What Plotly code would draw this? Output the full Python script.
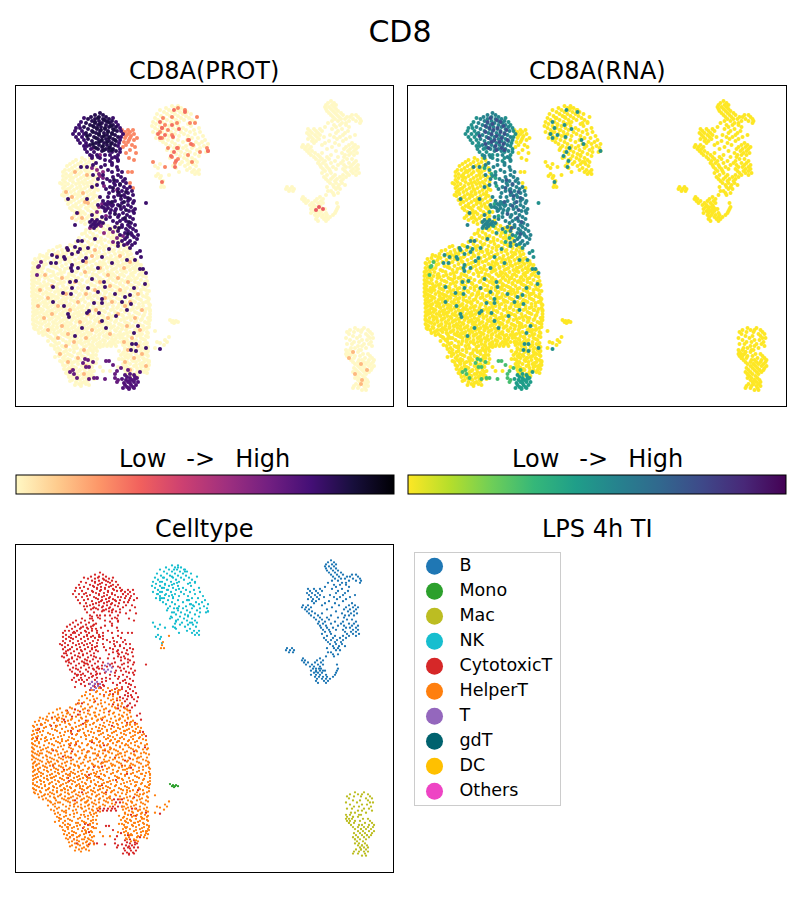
import plotly.graph_objects as go

cell_types = ["B", "Mono", "Mac", "NK", "CytotoxicT", "HelperT", "T", "gdT", "DC", "Others"]
type_colors = ["#1f77b4", "#2ca02c", "#bcbd22", "#17becf", "#d62728", "#ff7f0e", "#9467bd", "#00626e", "#ffc000", "#ee44c4"]

# every row is [umap_y, umap_x, umap_x, ...]
helper_rows = [
    [226, 99, 108, 117], [228, 92, 103, 112, 120], [230, 86, 96, 106, 115], [232, 90, 100, 110, 118],
    [234, 82, 93, 104, 113], [236, 87, 97, 108, 117], [238, 79, 90, 101, 111, 120], [240, 84, 94, 105, 114],
    [242, 76, 88, 98, 109, 118], [244, 81, 92, 102, 112, 121], [246, 60, 72, 85, 96, 106, 116, 125],
    [248, 66, 78, 89, 100, 110, 120, 128], [250, 53, 62, 74, 84, 94, 104, 114, 124, 130],
    [252, 58, 70, 80, 90, 99, 109, 119, 127], [254, 47, 55, 66, 76, 86, 96, 105, 115, 123, 131],
    [256, 43, 52, 62, 72, 82, 92, 101, 111, 120, 128], [258, 39, 48, 58, 68, 79, 88, 97, 107, 116, 125, 133],
    [260, 45, 54, 65, 75, 85, 94, 104, 113, 122, 130], [262, 37, 42, 50, 60, 70, 81, 90, 100, 109, 118, 127, 135],
    [264, 34, 46, 56, 66, 76, 86, 96, 105, 114, 123, 132, 138], [266, 38, 52, 62, 73, 83, 92, 102, 111, 120, 129, 136],
    [268, 33, 43, 57, 68, 79, 88, 98, 107, 116, 125, 133, 140], [270, 37, 48, 60, 71, 84, 94, 103, 112, 121, 130, 138],
    [272, 32, 42, 53, 64, 76, 89, 99, 108, 117, 126, 135, 142], [274, 36, 46, 58, 69, 81, 93, 104, 113, 122, 131, 140],
    [276, 32, 41, 51, 62, 74, 86, 97, 106, 115, 124, 133, 143], [278, 35, 45, 56, 66, 78, 90, 100, 110, 119, 128, 137],
    [280, 32, 39, 49, 60, 71, 82, 94, 103, 113, 122, 131, 141], [282, 35, 44, 54, 64, 75, 87, 97, 107, 116, 125, 135, 145],
    [284, 32, 40, 48, 58, 69, 80, 91, 101, 110, 120, 129, 139], [286, 34, 43, 52, 63, 73, 84, 95, 105, 114, 123, 133, 143, 147],
    [288, 32, 38, 47, 57, 67, 78, 89, 99, 108, 118, 127, 137], [290, 35, 42, 51, 61, 71, 82, 93, 103, 112, 121, 131, 141, 146],
    [292, 32, 39, 46, 55, 65, 76, 86, 97, 106, 116, 125, 135], [294, 34, 43, 50, 59, 69, 80, 90, 100, 110, 119, 129, 139, 147],
    [296, 32, 38, 47, 54, 63, 73, 84, 94, 104, 113, 123, 133, 143], [298, 35, 42, 51, 58, 67, 77, 88, 98, 107, 117, 127, 137, 148],
    [300, 33, 39, 46, 55, 62, 71, 81, 92, 101, 111, 121, 131, 141], [302, 36, 43, 50, 59, 66, 75, 85, 95, 105, 115, 125, 135, 146],
    [304, 33, 40, 47, 54, 63, 70, 79, 89, 99, 109, 119, 129, 139, 149], [306, 35, 44, 51, 58, 67, 74, 83, 93, 103, 113, 123, 133, 143],
    [308, 33, 39, 48, 55, 62, 71, 78, 87, 97, 107, 117, 127, 137, 149], [310, 37, 43, 52, 59, 66, 75, 82, 91, 101, 111, 121, 131, 141, 150],
    [312, 33, 41, 47, 56, 63, 70, 79, 86, 95, 105, 115, 125, 135, 145], [314, 36, 44, 51, 60, 67, 74, 83, 90, 99, 109, 119, 129, 139, 150],
    [316, 33, 40, 48, 55, 64, 71, 78, 87, 94, 103, 113, 123, 133, 143], [318, 37, 44, 52, 59, 68, 75, 82, 91, 98, 107, 117, 127, 137, 148],
    [320, 33, 41, 49, 56, 63, 72, 79, 86, 95, 102, 111, 121, 131, 141, 150], [322, 37, 45, 53, 60, 67, 76, 83, 90, 99, 106, 115, 125, 135, 145],
    [324, 33, 42, 49, 57, 64, 71, 80, 87, 94, 103, 110, 119, 129, 139, 149], [326, 36, 46, 53, 61, 68, 75, 84, 91, 98, 107, 114, 123, 133, 143],
    [328, 34, 41, 50, 57, 65, 72, 79, 88, 95, 102, 111, 118, 127, 137, 147], [330, 38, 45, 54, 61, 69, 76, 83, 92, 99, 106, 115, 126, 135, 143],
    [332, 42, 50, 58, 65, 73, 80, 87, 96, 103, 110, 120, 130, 139, 147], [334, 46, 55, 62, 69, 77, 84, 91, 100, 107, 124, 133, 142],
    [336, 48, 56, 66, 73, 81, 88, 95, 104, 112, 128, 137, 146], [338, 51, 60, 70, 77, 85, 92, 99, 108, 123, 132, 141],
    [340, 53, 63, 74, 81, 89, 96, 103, 115, 127, 136, 145], [342, 55, 66, 78, 85, 93, 100, 110, 122, 131, 140],
    [344, 57, 69, 82, 89, 97, 126, 135, 144], [346, 54, 62, 73, 86, 93, 129, 138, 146], [348, 58, 66, 77, 90, 96, 125, 133, 142],
    [350, 60, 70, 81, 91, 128, 137, 145], [352, 57, 64, 74, 85, 93, 124, 132, 141, 147], [354, 61, 68, 78, 88, 127, 136, 144],
    [356, 59, 65, 72, 82, 91, 125, 131, 140, 148], [358, 63, 76, 86, 93, 128, 135, 143], [360, 65, 70, 80, 90, 124, 132, 139, 147],
    [362, 62, 67, 74, 84, 92, 127, 136, 144, 149], [364, 68, 78, 88, 123, 130, 140, 148], [366, 65, 72, 82, 91, 126, 134, 143, 147],
    [368, 69, 76, 86, 128, 137, 146], [370, 67, 73, 80, 90, 125, 132, 141, 145], [372, 70, 77, 85, 92, 129, 137, 144],
    [374, 68, 74, 82, 89, 127, 134], [376, 72, 79, 87, 93, 131, 138], [378, 75, 83, 90], [380, 72, 80, 87], [382, 76, 84],
    [384, 79, 86], [386, 81],
    [331, 155], [337, 169], [340, 165], [342, 157, 167], [343, 160], [345, 164], [348, 155],
    [175, 169], [181, 163], [184, 162], [187, 161, 164],
    [347, 100], [351, 97, 119], [355, 96, 121], [359, 97, 119], [363, 96], [367, 100, 118], [371, 103, 110],
]
helper_fill_rows = [
    [229, 97, 118], [233, 85, 109], [237, 94, 113], [241, 79, 101, 122], [245, 70, 90, 115], [247, 57, 83, 104, 127],
    [251, 49, 67, 88, 113], [253, 63, 95, 122], [255, 40, 59, 81, 103, 128], [257, 46, 71, 98, 119], [259, 35, 62, 87, 110, 131],
    [261, 41, 69, 93, 117, 137], [263, 33, 57, 79, 103, 126], [265, 44, 72, 99, 118, 141], [267, 36, 55, 80, 107, 127],
    [269, 40, 65, 91, 114, 135], [271, 34, 50, 77, 101, 124, 144], [273, 38, 61, 86, 110, 133], [275, 33, 54, 72, 96, 120, 139],
    [277, 37, 47, 68, 92, 111, 129, 146], [279, 39, 58, 76, 99, 117, 135], [281, 33, 52, 69, 88, 108, 126, 147],
    [283, 37, 61, 79, 100, 120, 138], [285, 33, 46, 71, 92, 111, 131, 148], [287, 41, 56, 82, 103, 116, 136], [289, 33, 49, 65, 87, 109, 125, 144],
    [291, 37, 58, 75, 98, 118, 134, 149], [293, 33, 47, 68, 85, 105, 122, 141], [295, 36, 52, 61, 79, 96, 115, 137],
    [297, 40, 57, 71, 90, 109, 128, 146], [299, 34, 49, 65, 83, 103, 119, 139, 149], [301, 37, 53, 74, 93, 113, 133, 148],
    [303, 33, 45, 61, 79, 98, 122, 143], [305, 38, 56, 69, 88, 107, 127, 150], [307, 34, 47, 64, 81, 100, 118, 139],
    [309, 41, 58, 73, 94, 113, 133, 146], [311, 35, 50, 68, 85, 104, 125, 150], [313, 38, 54, 77, 97, 117, 137],
    [315, 34, 47, 62, 80, 101, 122, 144], [317, 41, 58, 73, 91, 110, 130, 150], [319, 33, 50, 66, 85, 104, 124, 142],
    [321, 35, 45, 61, 77, 96, 116, 136, 149], [323, 39, 54, 70, 88, 108, 127, 147], [325, 34, 48, 65, 82, 100, 121, 140],
    [327, 40, 57, 74, 93, 112, 130, 149], [329, 35, 52, 68, 86, 104, 122, 144], [331, 44, 60, 78, 97, 116, 137],
    [333, 39, 54, 71, 89, 109, 127, 148], [335, 43, 64, 82, 99, 120, 140], [337, 50, 68, 87, 106, 131, 148],
    [339, 55, 75, 94, 112, 126, 143], [341, 48, 70, 88, 105, 134], [343, 59, 81, 99, 128, 147], [345, 51, 76, 92, 123, 140],
    [347, 64, 84, 132, 148], [349, 55, 74, 94, 125, 141], [351, 66, 88, 134, 148], [353, 59, 80, 123, 142], [355, 70, 93, 130, 147],
    [357, 55, 84, 126, 138], [359, 68, 90, 122, 144], [361, 60, 77, 133, 149], [363, 72, 94, 126, 142], [365, 63, 85, 136, 149],
    [367, 74, 92, 124, 141], [369, 64, 84, 131, 148], [371, 79, 94, 138], [373, 66, 88, 126, 147], [375, 77, 91, 136], [377, 69, 86],
    [379, 78, 94], [381, 70, 88], [383, 82], [385, 75, 89],
]
helper_peach_rows = [
    [250, 68, 95], [256, 57, 92, 120], [262, 86, 130], [268, 100, 124], [272, 85], [275, 45, 108], [278, 62, 118],
    [282, 75, 100, 128], [286, 52, 110], [290, 40, 95, 120], [294, 66, 86, 138], [298, 48, 105], [302, 78, 112, 130],
    [306, 38, 58, 125], [310, 70, 96, 142], [314, 52, 88, 118], [318, 44, 108, 135], [322, 80, 100], [326, 62, 127],
    [330, 48, 92, 140], [334, 68, 110], [338, 58, 86, 132], [342, 74, 124], [346, 66, 138], [350, 84, 128],
    [354, 60, 142], [358, 78, 134], [362, 68, 125], [366, 86, 146], [370, 72, 130], [374, 84],
]
cyto_left_rows = [
    [158, 82, 90], [160, 76, 85, 93], [162, 73, 81, 89], [164, 70, 78, 86, 94], [166, 67, 75, 83, 91], [168, 72, 80, 88, 96],
    [170, 65, 69, 77, 85, 92], [172, 63, 73, 81, 89, 97], [174, 66, 71, 79, 87], [176, 63, 69, 76, 84, 91, 99],
    [178, 66, 73, 81, 88], [180, 63, 70, 78, 85, 93], [182, 65, 73, 82, 90, 97], [184, 62, 68, 76, 84, 92],
    [186, 65, 72, 80, 88, 95], [188, 63, 70, 77, 85, 92], [190, 66, 74, 82, 90, 98], [192, 64, 71, 79, 87, 94],
    [194, 67, 75, 83, 91], [196, 64, 72, 80, 88, 96], [198, 69, 77, 85, 93], [200, 66, 74, 82, 90, 98], [202, 71, 79, 87, 95],
    [204, 68, 76, 84, 92], [206, 73, 81, 89, 97], [208, 70, 78, 86, 94], [210, 72, 80, 88, 96], [212, 75, 83, 91, 100],
    [214, 77, 85, 93], [216, 74, 81, 89, 97], [218, 79, 87, 95], [220, 76, 84, 92, 102], [222, 81, 89, 98], [224, 85, 94, 104],
    [344, 100, 104, 108, 112, 115], [346, 98, 103, 107, 111, 116], [342, 113, 118, 122], [338, 116, 120], [335, 114, 118, 122],
    [171, 74, 86], [177, 71, 95], [183, 60, 79, 87], [189, 68, 81, 96], [195, 62, 78, 94], [201, 69, 84], [207, 76, 93], [213, 81, 96],
]
cyto_left_peach_rows = [
    [172, 75], [175, 87], [192, 66], [193, 83], [197, 72], [202, 85], [203, 88], [213, 78], [218, 72, 82],
]
cyto_side_rows = [
    [130, 122, 128, 133], [132, 125, 130], [134, 123, 128, 134], [136, 126, 131], [138, 125, 130, 137], [140, 129, 134],
    [142, 124, 128], [145, 126, 132], [147, 123, 135], [150, 130], [153, 126, 136], [158, 129], [160, 134], [172, 128, 132],
    [183, 130], [188, 133],
]
top_center_rows = [
    [113, 100], [115, 95, 103], [117, 91, 99, 106], [119, 88, 95, 103, 109], [121, 92, 99, 106, 112], [123, 86, 95, 102, 110],
    [125, 90, 98, 106, 113], [127, 84, 94, 101, 109, 116], [129, 88, 97, 105, 113], [131, 92, 100, 108, 117],
    [133, 86, 96, 104, 112], [135, 90, 99, 107, 115], [137, 94, 102, 110, 118], [139, 88, 98, 106, 113], [141, 92, 101, 109, 116],
    [143, 96, 104, 112], [145, 90, 99, 107, 115], [147, 94, 102, 110], [149, 98, 106, 113], [151, 102, 109, 116],
]
top_blue_rows = [
    [118, 98], [120, 104], [122, 95, 108], [124, 100], [126, 93, 111], [128, 97, 105], [130, 101, 114], [132, 93, 108], [134, 99, 112],
    [136, 87, 104], [138, 96, 109], [140, 102, 115], [142, 99, 107], [144, 93, 111], [146, 103], [148, 96, 109], [150, 104, 112],
]
top_edge_rows = [
    [118, 84, 113], [122, 81, 116], [125, 79, 118], [128, 76, 80, 120], [131, 75, 82, 121], [134, 73, 79, 84, 123],
    [137, 76, 82, 121], [140, 78, 84, 120], [143, 80, 86, 119], [146, 84, 87, 118], [149, 85, 91, 120], [152, 87, 94, 112, 120],
    [155, 90, 97, 105, 118], [158, 92, 100, 112, 117], [161, 110, 118],
]
cyto_col_rows = [
    [155, 110], [156, 92], [157, 98, 115], [160, 105, 118], [163, 96, 112], [165, 93, 105, 112], [167, 81, 87, 101, 117],
    [170, 108, 118], [172, 112, 122], [175, 93, 103, 118], [177, 113, 121], [179, 98, 107, 125], [181, 110, 117, 123],
    [183, 103, 114, 126], [185, 97, 115, 120], [187, 92, 110, 124, 130], [189, 106, 118, 127], [191, 113, 122, 132],
    [193, 109, 119, 128], [195, 118, 124, 133], [197, 100, 108, 114, 125], [199, 68, 87, 121, 130], [201, 103, 115, 128, 134],
    [203, 110, 122, 133], [205, 98, 107, 113, 118, 128], [207, 102, 124, 131], [209, 116, 121, 135], [211, 105, 115, 129, 133],
    [213, 77, 110, 123, 134], [215, 92, 119, 127], [217, 102, 110, 118, 130], [219, 106, 123, 133], [221, 113, 120, 126],
    [223, 103, 117, 131], [225, 75, 95, 122, 128, 135], [227, 115, 122, 130], [229, 110, 126, 133], [231, 118, 128, 136],
    [233, 125, 131], [235, 120, 132, 138], [237, 127, 134], [239, 95, 125, 137], [241, 78, 82, 122, 130], [243, 118, 128, 135],
    [245, 124, 132],
]
col_blue_rows = [
    [180, 114], [184, 120], [188, 113], [192, 118, 126], [196, 121], [198, 128], [202, 112, 124], [206, 120], [210, 126], [214, 115],
    [218, 125], [222, 129], [228, 119], [234, 128],
]
col_green_rows = [
    [168, 92], [174, 99], [178, 103], [186, 104], [204, 102], [212, 97], [216, 106], [222, 95], [226, 101], [232, 113], [238, 117],
    [242, 113], [244, 127], [236, 123],
]
cyto_mid_rows = [[148, 93], [150, 103], [155, 100], [170, 97], [172, 103], [176, 100], [190, 117], [207, 99], [225, 100], [228, 90], [233, 104]]
scatter_a_rows = [
    [203, 146], [246, 118], [247, 75], [248, 67, 88, 130], [249, 80, 109], [250, 68], [251, 140], [252, 78], [253, 137], [254, 72],
    [255, 52], [257, 57, 64, 102, 141], [258, 86], [259, 65], [260, 127, 135], [261, 83], [263, 51, 56, 112], [265, 72],
    [268, 71, 78, 98], [269, 140, 143], [271, 72], [273, 146], [279, 92], [281, 76], [282, 70, 104], [284, 145], [287, 53, 105],
    [288, 72, 88, 134], [292, 98], [293, 63], [294, 71, 115], [295, 130], [297, 125], [299, 102], [302, 53, 122], [303, 94, 102],
    [304, 131], [306, 64], [310, 127], [311, 89], [313, 87, 99], [314, 68], [316, 116], [317, 69], [321, 102], [326, 138],
    [328, 82, 106], [333, 134], [336, 75], [344, 132, 136], [348, 146], [349, 160], [350, 131], [351, 136],
]
scatter_b_rows = [
    [262, 41], [266, 39], [267, 38], [275, 37], [359, 85], [360, 88], [361, 106, 109], [362, 93], [363, 83], [365, 113],
    [367, 86, 89], [368, 121], [370, 73, 128], [371, 117], [372, 70], [374, 74, 115], [378, 77, 94, 97, 115], [379, 89, 105],
    [380, 118], [382, 117],
]
bottom_rows = [
    [372, 140], [374, 130], [375, 125, 134], [377, 127, 135], [378, 130, 137], [379, 122, 135], [380, 126, 132], [381, 129],
    [382, 128, 134, 138], [383, 124, 130], [385, 125, 131, 136], [387, 127, 133], [388, 123, 129, 134], [389, 129],
]
t_rows = [
    [202, 108], [204, 105, 110], [206, 112], [208, 104, 108], [210, 106, 111], [220, 92, 97], [222, 90, 95, 100], [224, 93, 98],
    [226, 91, 96], [228, 94],
]
nk_rows = [
    [106, 172, 178], [108, 166, 175, 181], [110, 160, 169, 177, 184], [112, 164, 172, 180, 187], [114, 157, 167, 175, 183, 191],
    [116, 161, 170, 178, 186], [118, 155, 164, 173, 181, 189], [120, 158, 167, 176, 184, 192], [122, 153, 162, 171, 179, 195],
    [124, 156, 165, 174, 188], [126, 152, 160, 169, 178, 191], [128, 155, 164, 173, 183, 199], [130, 158, 167, 176, 186, 194],
    [132, 153, 162, 171, 181, 190, 200], [134, 157, 166, 175, 184, 195], [136, 160, 169, 179, 188, 203], [138, 156, 164, 173, 192, 198],
    [140, 160, 168, 178, 187, 205], [142, 163, 172, 183, 196, 202], [144, 166, 175, 190, 199, 208], [146, 170, 179, 186, 194, 204],
    [148, 174, 183, 192, 200], [150, 167, 178, 187, 197], [152, 172, 181, 190, 206], [154, 176, 185, 195], [156, 180, 188, 199],
    [158, 170, 184, 192], [160, 176, 187, 195], [162, 182, 190, 197], [164, 160, 180, 188, 193], [166, 155, 173, 185, 196],
    [168, 158, 176, 190], [170, 187, 194, 199], [172, 179, 192, 197], [174, 158, 195, 199], [176, 156, 161], [178, 160],
]
nk_orange_rows = [
    [108, 178], [110, 185], [117, 172, 197], [118, 163], [123, 177, 190, 195], [125, 165], [128, 162], [130, 168], [132, 160],
    [135, 172], [138, 162], [140, 188], [145, 193], [148, 168, 178, 207], [151, 208], [152, 200], [155, 188], [157, 172],
    [159, 178], [162, 153, 192], [163, 175], [167, 165],
]
nk_teal_rows = [
    [110, 174], [112, 185], [122, 160], [125, 172], [128, 162], [129, 179], [134, 158], [135, 165], [137, 173], [138, 160],
    [140, 189], [144, 191], [148, 177], [151, 208], [152, 174], [156, 171], [161, 176], [167, 175], [182, 162],
]
b_rows = [
    [101, 331], [103, 328, 334], [105, 326, 332, 336], [107, 325, 329, 334], [109, 326, 331, 336], [111, 327, 333, 338],
    [113, 329, 335, 341], [115, 331, 337, 343, 352, 356], [117, 333, 339, 347, 350, 358], [119, 335, 341, 345, 353, 360],
    [121, 332, 338, 349, 356, 361], [123, 328, 342, 346, 360], [125, 334, 340, 346], [127, 325, 336, 349],
    [129, 308, 314, 320, 332, 342], [131, 310, 316, 322, 338, 348], [133, 307, 312, 318, 336, 345], [135, 309, 315, 320, 330, 343, 355],
    [137, 311, 317, 324, 334, 340, 350], [139, 308, 313, 319, 337, 346], [141, 312, 316, 329, 343], [143, 314, 325, 335, 352],
    [145, 303, 308, 322, 339, 349, 355], [147, 302, 306, 311, 332, 346, 353, 358], [149, 305, 309, 327, 344, 350, 356],
    [151, 307, 312, 336, 348, 354], [153, 309, 315, 322, 342, 351, 357], [155, 311, 318, 331, 345, 349, 354], [157, 314, 320, 327, 338, 344],
    [159, 316, 322, 329, 347, 352], [161, 319, 325, 335, 343, 356], [163, 318, 323, 331, 341, 349, 354], [165, 320, 326, 338, 344, 352, 358],
    [167, 321, 327, 333, 346, 350, 356], [169, 323, 329, 336, 343, 353, 358], [171, 325, 330, 345, 351, 356], [173, 322, 331, 347, 353, 359],
    [175, 327, 335, 343, 349, 356], [177, 324, 333, 340, 346], [179, 326, 331, 337, 343], [181, 328, 335, 341], [183, 330, 336, 342],
    [185, 333, 339, 345], [187, 287, 292, 327, 334, 338], [189, 286, 290, 294, 336, 340], [191, 289, 293, 328, 331], [193, 333, 338],
    [195, 326, 334], [197, 303, 320], [199, 302, 305, 317, 323], [201, 304, 308, 315, 321], [203, 306, 312, 318, 323, 337],
    [205, 310, 314, 320], [207, 313, 316, 321, 338], [209, 311, 316, 320, 325, 337], [211, 314, 318, 322, 336],
    [213, 311, 316, 320, 326, 335], [215, 315, 319, 323, 327, 333], [217, 317, 322, 326, 330], [219, 316, 324, 328], [221, 318, 326],
]
b_red_rows = [[207, 319], [209, 323], [210, 316]]
mac_rows = [
    [328, 355, 364], [330, 350, 358, 362, 368], [332, 347, 354, 361, 370], [334, 349, 366, 372], [336, 353, 360, 368],
    [338, 346, 357, 370, 373], [340, 350, 362, 367], [342, 354, 359, 371], [344, 347, 352, 364, 369], [346, 358, 362, 372],
    [348, 351, 355, 366], [350, 346, 350, 359, 361], [352, 347, 353, 358], [354, 346, 349, 352, 363, 368], [356, 347, 350, 355, 360, 370],
    [358, 349, 354, 365, 372], [360, 351, 359, 362, 369, 374], [362, 353, 358, 364, 368, 373], [364, 355, 361, 366, 371],
    [366, 358, 363, 369, 374], [368, 354, 360, 365, 372], [370, 356, 362, 367, 371], [372, 353, 358, 364, 369], [374, 355, 360, 366],
    [376, 357, 363], [378, 355, 359, 365], [380, 358, 362, 367], [382, 360, 364, 368], [384, 356, 361, 366], [386, 354, 359, 364, 368],
    [388, 353, 358, 365], [390, 362, 366],
]
mac_peach_rows = [[352, 353], [358, 349], [364, 361], [370, 367], [374, 355], [380, 362], [384, 361]]
mono_rows = [[320, 170], [321, 173, 176], [322, 172, 175, 178], [323, 174]]

# rows, cell type, protein level, rna level (0 low .. 10 high)
groups = [
    (cyto_left_rows, "CytotoxicT", 0, 0),
    (cyto_left_peach_rows, "CytotoxicT", 1.5, 0),
    (cyto_side_rows, "CytotoxicT", 2.5, 0),
    (top_center_rows, "CytotoxicT", 8.5, 5.5),
    (top_blue_rows, "CytotoxicT", 8.8, 7.5),
    (top_edge_rows, "CytotoxicT", 8, 5),
    (cyto_col_rows, "CytotoxicT", 8, 5.5),
    (col_blue_rows, "CytotoxicT", 8.5, 7),
    (col_green_rows, "CytotoxicT", 6.5, 4),
    (cyto_mid_rows, "CytotoxicT", 6, 5),
    (scatter_a_rows, "CytotoxicT", 8, 5),
    (scatter_b_rows, "CytotoxicT", 7, 3),
    (bottom_rows, "CytotoxicT", 7.5, 4.5),
    (helper_rows, "HelperT", 0, 0),
    (helper_fill_rows, "HelperT", 0, 0),
    (helper_peach_rows, "HelperT", 1.5, 0),
    (t_rows, "T", 8, 5.5),
    (nk_rows, "NK", 0, 0),
    (nk_orange_rows, "NK", 2.5, 0),
    (nk_teal_rows, "NK", 3, 5),
    (b_rows, "B", 0, 0),
    (b_red_rows, "B", 3.5, 0),
    (mac_rows, "Mac", 0, 0),
    (mac_peach_rows, "Mac", 1.5, 0),
    (mono_rows, "Mono", 0, 0),
]

prot_scale = [
    [0, "#fff8c4"], [0.11, "#fecb8d"], [0.22, "#fd9668"], [0.33, "#f1605d"], [0.44, "#cd4071"],
    [0.56, "#9e2f7f"], [0.67, "#721f81"], [0.78, "#440f76"], [0.89, "#180f3d"], [1, "#000004"],
]

cells = []
for rows, cell_type, prot, rna in groups:
    for row in rows:
        for x in row[1:]:
            cells.append((x, row[0], cell_type, prot, rna))

# the page keeps its 8px body margin, so everything below is shifted back by it
PAGE_MARGIN = 8
W, H = 784, 884


def dom_x(a, b):
    return [(a - PAGE_MARGIN) / W, (b - PAGE_MARGIN) / W]


def dom_y(top, bottom):
    return [1 - (bottom - PAGE_MARGIN) / H, 1 - (top - PAGE_MARGIN) / H]


def frame(domain, range_, anchor, color="black"):
    return dict(
        domain=domain, range=range_, anchor=anchor, showline=True, mirror=True, linecolor=color, linewidth=1,
        showgrid=False, zeroline=False, showticklabels=False, ticks="",
    )


def colorbar(x0):
    return dict(
        orientation="h", x=(x0 - PAGE_MARGIN) / W, xanchor="left", y=1 - (494.5 - PAGE_MARGIN) / H, yanchor="bottom",
        lenmode="pixels", len=378, thickness=19, thicknessmode="pixels", xpad=0, ypad=0, outlinecolor="black",
        outlinewidth=1, ticks="", showticklabels=False,
    )


fig = go.Figure()

by_prot = sorted(cells, key=lambda c: c[3])
fig.add_trace(
    go.Scatter(
        x=[c[0] for c in by_prot], y=[c[1] for c in by_prot], mode="markers", xaxis="x", yaxis="y",
        marker=dict(size=4, color=[c[3] for c in by_prot], coloraxis="coloraxis"),
    )
)
by_rna = sorted(cells, key=lambda c: c[4])
fig.add_trace(
    go.Scatter(
        x=[c[0] for c in by_rna], y=[c[1] for c in by_rna], mode="markers", xaxis="x2", yaxis="y2",
        marker=dict(size=4, color=[c[4] for c in by_rna], coloraxis="coloraxis2"),
    )
)
for name, color in zip(cell_types, type_colors):
    fig.add_trace(
        go.Scatter(
            x=[c[0] for c in cells if c[2] == name], y=[c[1] for c in cells if c[2] == name], mode="markers",
            xaxis="x3", yaxis="y3", marker=dict(size=2.3, color=color),
        )
    )
# the legend panel is drawn as its own axes so marker size and spacing stay fixed
fig.add_trace(
    go.Scatter(
        x=[20] * len(cell_types), y=cell_types, mode="markers", xaxis="x4", yaxis="y4",
        marker=dict(size=17, color=type_colors),
    )
)
fig.add_trace(
    go.Scatter(
        x=[45] * len(cell_types), y=cell_types, text=cell_types, mode="text", textposition="middle right",
        xaxis="x4", yaxis="y4", textfont=dict(size=17.5, color="black"), cliponaxis=False,
    )
)

low_high = "Low\u00a0\u00a0\u2009->\u00a0\u00a0\u2009High"
titles = [
    ("CD8A(PROT)", 204, 71), ("CD8A(RNA)", 597, 71), (low_high, 204, 459), (low_high, 597, 459),
    ("Celltype", 204, 529), ("LPS 4h TI", 597, 529),
]
annotations = [
    dict(text=t, x=(x - PAGE_MARGIN) / W, y=1 - (y - PAGE_MARGIN) / H, xref="paper", yref="paper", xanchor="center",
         yanchor="middle", showarrow=False, font=dict(size=24))
    for t, x, y in titles
]

umap_x = [15.5, 393]
umap_y = [406, 86]
fig.update_layout(
    width=W, height=H, autosize=False, margin=dict(l=0, r=0, t=0, b=0, autoexpand=False), showlegend=False,
    plot_bgcolor="white", paper_bgcolor="white", font=dict(family="DejaVu Sans", color="black"),
    title=dict(text="CD8", x=(400 - PAGE_MARGIN) / W, xanchor="center", y=1 - (31 - PAGE_MARGIN) / H, yanchor="middle", font=dict(size=30)),
    xaxis=frame(dom_x(15.5, 393), umap_x, "y"), yaxis=frame(dom_y(86, 406), umap_y, "x"),
    xaxis2=frame(dom_x(408, 785.5), umap_x, "y2"), yaxis2=frame(dom_y(86, 406), umap_y, "x2"),
    xaxis3=frame(dom_x(15.5, 393), umap_x, "y3"), yaxis3=frame(dom_y(545, 872), umap_y, "x3"),
    xaxis4=frame(dom_x(414.5, 560), [0, 145.5], "y4", "#cccccc"),
    yaxis4=dict(frame(dom_y(552.5, 805), [9.55, -0.55], "x4", "#cccccc"), type="category",
                categoryorder="array", categoryarray=cell_types),
    coloraxis=dict(colorscale=prot_scale, cmin=0, cmax=10, colorbar=colorbar(15.5)),
    coloraxis2=dict(colorscale="Viridis_r", cmin=0, cmax=10, colorbar=colorbar(408)),
    annotations=annotations,
)

fig.write_html("out.html")
